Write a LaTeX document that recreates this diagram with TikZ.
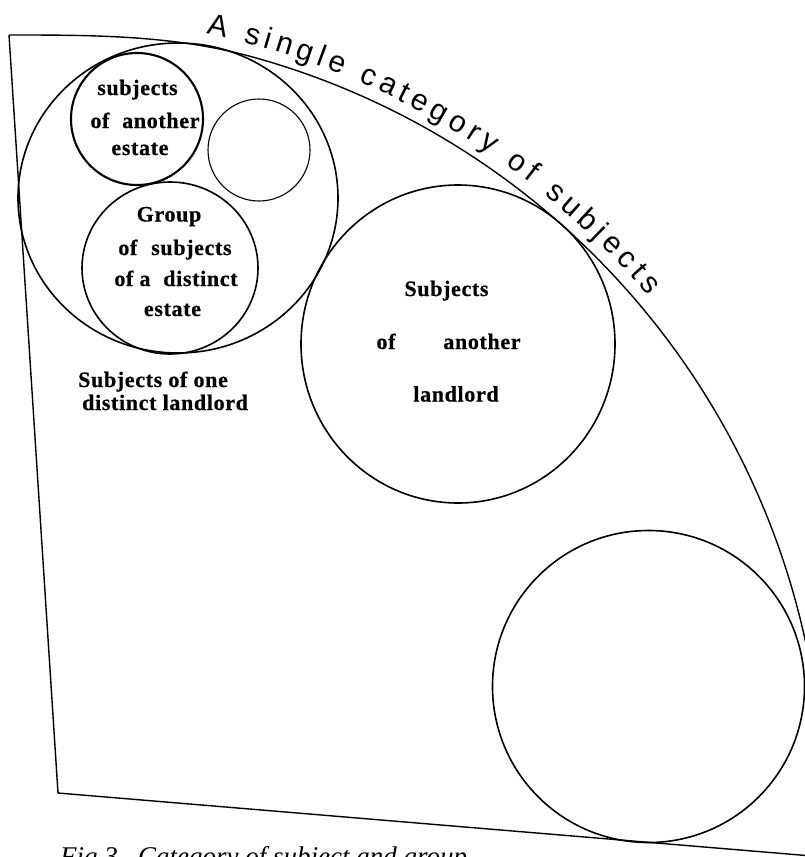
\documentclass[tikz,border=0pt]{standalone}
\usepackage{fontspec}
\setmainfont{Liberation Serif}
\newfontfamily\arcfont{Liberation Sans}
\newfontfamily\lblfont[LetterSpace=3,FakeBold=0.6]{Liberation Serif Bold}
\usetikzlibrary{decorations.text}
\tikzset{
  lbl/.style={font=\lblfont\fontsize{22}{24}\selectfont, inner sep=0pt, anchor=base},
  lblL/.style={lbl, anchor=base west},
  ring/.style={draw, line width=1.6pt},
  thinring/.style={draw, line width=1.1pt},
  boldring/.style={draw, line width=2.1pt},
  outer/.style={draw, line width=1.4pt, line join=round},
  caption/.style={font=\itshape\fontsize{27}{29}\selectfont, inner sep=0pt, anchor=base west}
}
\begin{document}
\begin{tikzpicture}[x=1pt,y=-1pt]
\useasboundingbox (0,0) rectangle (805,857);
\clip (0,0) rectangle (805,857);

% outer sector
\coordinate (tl) at (9,35);
\coordinate (bl) at (58,793);
\coordinate (br) at (830,857.5);
\coordinate (ac) at (46,806);
\draw[outer] (tl) -- (bl) -- (br);
\draw[outer] (tl) .. controls (90,35) and (170,35) .. (247.1,55.5)
  arc[start angle=-75, end angle=5, radius=777];

% arc title
\path[decorate, decoration={text along path,
  text={|\arcfont\fontsize{30}{32}\selectfont|A single category of subjects},
  text align={fit to path}}]
  (ac) ++(-78.3:789) arc[start angle=-78.3, end angle=-40.3, radius=789];

% circles
\draw[ring] (178,198) ellipse[x radius=160pt, y radius=155pt];
\draw[boldring] (137,119) circle[radius=66pt];
\draw[thinring] (259,150) circle[radius=51pt];
\draw[ring] (170,268) ellipse[x radius=88pt, y radius=86pt];
\draw[ring] (458,344) ellipse[x radius=157pt, y radius=159pt];
\draw[ring] (648.5,686.5) circle[radius=156pt];

% labels: another estate
\node[lbl] (ae1) at (137.5,95) {subjects};
\node[lbl] (ae2) at (145,128) {of\hspace{0.3em} another};
\node[lbl] (ae3) at (140,155) {estate};

% labels: group
\node[lbl] (g1) at (169,221.5) {Group};
\node[lbl] (g2) at (175,255) {of\hspace{0.35em} subjects};
\node[lbl] (g3) at (176,286) {of a\hspace{0.3em} distinct};
\node[lbl] (g4) at (172.5,316) {estate};

% label below
\node[lblL] (sl1) at (78,387) {Subjects of one};
\node[lblL] (sl2) at (82,410) {distinct landlord};

% big circle text
\node[lbl] (b1) at (446.5,296) {Subjects};
\node[lbl] (b2) at (386,349) {of};
\node[lbl] (b3) at (482,349) {another};
\node[lbl] (b4) at (456,401.5) {landlord};

% caption (cut off by the page edge)
\node[caption] (cap) at (60,865) {Fig 3.\ \ Category of subject and group};
\end{tikzpicture}
\end{document}
